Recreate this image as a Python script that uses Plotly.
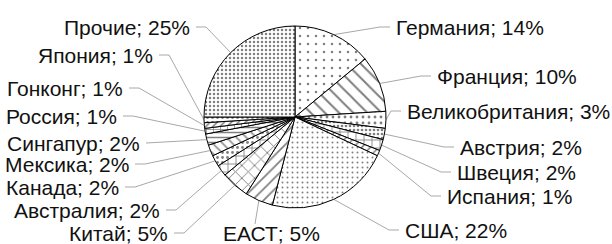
import numpy as np
import plotly.graph_objects as go

countries = ["Германия", "Франция", "Великобритания", "Австрия", "Швеция", "Испания",
             "США", "ЕАСТ", "Китай", "Австралия", "Канада", "Мексика", "Сингапур",
             "Россия", "Гонконг", "Япония", "Прочие"]
shares = [14, 10, 3, 2, 2, 1, 22, 5, 5, 2, 2, 2, 2, 1, 1, 1, 25]
label_text = [f"{c}; {v}%" for c, v in zip(countries, shares)]

# fill patterns per slice (style)
pat_shape = [".", "\\", ".", ".", "+", "/", ".", "/", "x", "+", ".", "\\", "-", "+", "/", ".", "."]
pat_size = [8, 10, 6, 4, 8, 6, 5, 8, 9, 8, 5, 7, 5, 7, 5, 5, 4]
pat_solid = [0.08, 0.2, 0.18, 0.35, 0.2, 0.25, 0.12, 0.22, 0.2, 0.2, 0.25, 0.22, 0.3, 0.2, 0.3, 0.25, 0.3]

# label placement in pixels: (side, x of text edge, y centre)
label_place = {
    "Германия": ("L", 394, 27), "Франция": ("L", 435, 76), "Великобритания": ("L", 405, 111),
    "Австрия": ("L", 458, 147), "Швеция": ("L", 455, 172), "Испания": ("L", 445, 196),
    "США": ("L", 403, 230), "ЕАСТ": ("T", 271, 233), "Китай": ("R", 170, 233),
    "Австралия": ("R", 162, 210), "Канада": ("R", 121, 187), "Мексика": ("R", 131, 164),
    "Сингапур": ("R", 142, 143), "Россия": ("R", 119, 116), "Гонконг": ("R", 125, 88),
    "Япония": ("R", 155, 55), "Прочие": ("R", 192, 27),
}

W, H = 612, 244
CX, CY, R = 295, 117, 91

fig = go.Figure()
fig.add_trace(go.Pie(
    values=shares, labels=countries, sort=False, direction="clockwise", rotation=0,
    textinfo="none", hoverinfo="label+percent", showlegend=False,
    domain=dict(x=[(CX - R) / W, (CX + R) / W], y=[1 - (CY + R) / H, 1 - (CY - R) / H]),
    marker=dict(colors=["white"] * len(shares), line=dict(color="black", width=1),
                pattern=dict(shape=pat_shape, size=pat_size, solidity=pat_solid,
                             fgcolor="black", bgcolor="white", fillmode="overlay")),
))

tot = sum(shares)
cum = np.cumsum([0] + shares[:-1])
annotations = []
for c, t, v, s in zip(countries, label_text, shares, cum):
    th = 2 * np.pi * (s + v / 2) / tot
    px, py = CX + R * np.sin(th), CY - R * np.cos(th)
    side, tx, ty = label_place[c]
    if side == "L":
        xs = [px, tx - 14, tx - 4]
        ys = [py, ty, ty]
        annotations.append(dict(x=tx, y=ty, text=t, xanchor="left", yanchor="middle"))
    elif side == "R":
        xs = [px, tx + 14, tx + 4]
        ys = [py, ty, ty]
        annotations.append(dict(x=tx, y=ty, text=t, xanchor="right", yanchor="middle"))
    else:
        xs = [px, tx - 16]
        ys = [py, ty - 9]
        annotations.append(dict(x=tx, y=ty, text=t, xanchor="center", yanchor="middle"))
    fig.add_trace(go.Scatter(x=xs, y=ys, mode="lines", line=dict(color="#a8a8a8", width=1),
                             hoverinfo="skip", showlegend=False))

for a in annotations:
    a.update(xref="x", yref="y", showarrow=False,
             font=dict(family="Liberation Sans, Arial, sans-serif", size=21, color="#111111"))

fig.update_layout(
    width=W, height=H, margin=dict(l=0, r=0, t=0, b=0),
    paper_bgcolor="white", plot_bgcolor="rgba(0,0,0,0)",
    xaxis=dict(range=[0, W], visible=False, fixedrange=True),
    yaxis=dict(range=[H, 0], visible=False, fixedrange=True),
    annotations=annotations,
)
fig.write_html("out.html", config={"displayModeBar": False},
               post_script="document.body.style.margin='0';")
